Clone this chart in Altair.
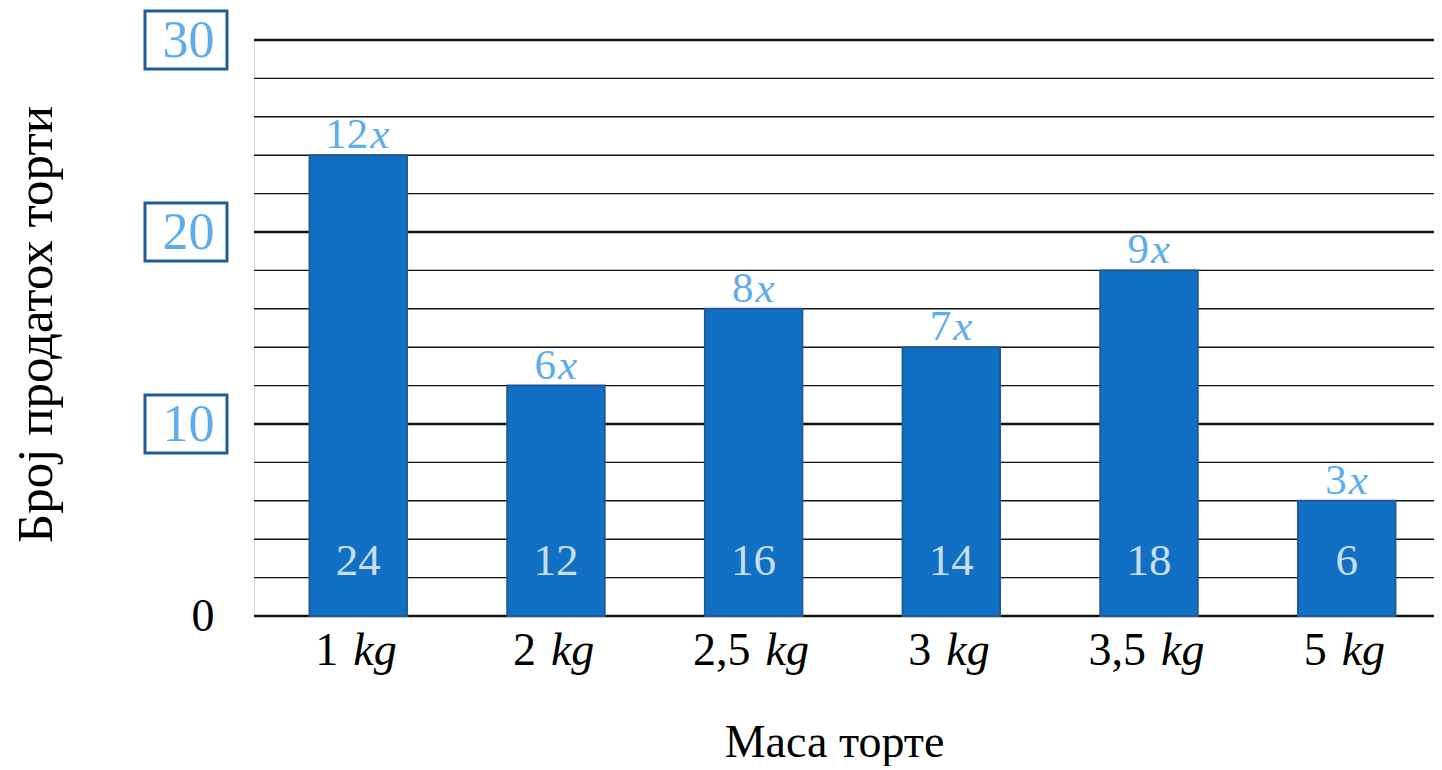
import altair as alt
import pandas as pd

# ---- data ----
masses = ["1", "2", "2,5", "3", "3,5", "5"]
counts = [24, 12, 16, 14, 18, 6]
ratios = ["12", "6", "8", "7", "9", "3"]
y_ticks = [0, 2, 4, 6, 8, 10, 12, 14, 16, 18, 20, 22, 24, 26, 28, 30]
boxed_ticks = [10, 20, 30]

df = pd.DataFrame({
    "mass": masses,
    "count": counts,
    "ratio": ratios,
    "cnt_label": [str(c) for c in counts],
})
grid_df = pd.DataFrame({"v": y_ticks})
box_df = pd.DataFrame({"v": boxed_ticks})

FONT = "Liberation Serif"
BAR = "#1170C4"
BAR_STROKE = "#1F5B96"
LIGHT = "#5DADEC"
PALE = "#C9DEF2"
BOX = "#1E5C99"

W, H = 1180, 576

x_scale = alt.Scale(paddingInner=0.507, paddingOuter=0.238, align=0.59)
y_scale = alt.Scale(domain=[0, 30], nice=False, zero=True)

x_enc = alt.X("mass:N", sort=masses, scale=x_scale,
              axis=alt.Axis(labels=False, ticks=False, domain=False, grid=False,
                            title="Маса торте", titleFont=FONT, titleFontSize=46,
                            titleFontWeight="normal", titleColor="black",
                            titleX=580, titleY=140, titleBaseline="alphabetic",
                            titleAlign="center"))

y_enc = alt.Y("count:Q", scale=y_scale,
              axis=alt.Axis(values=y_ticks, tickCount=40, domain=False, ticks=False, grid=False,
                            labelOverlap=False,
                            labelExpr="datum.value % 10 === 0 ? datum.label : ''",
                            labelFont=FONT,
                            labelFontSize=alt.expr("datum.value === 0 ? 46 : 52"),
                            labelColor=alt.expr("datum.value === 0 ? 'black' : '" + LIGHT + "'"),
                            labelPadding=40, labelAlign="right", labelBaseline="middle",
                            title="Број продатох торти", titleFont=FONT, titleFontSize=51,
                            titleFontWeight="normal", titleColor="black",
                            titleAngle=-90, titleX=-203, titleY=284,
                            titleBaseline="alphabetic", titleAlign="center"))

base = alt.Chart(df)

grid = alt.Chart(grid_df).mark_rule(color="#111111").encode(
    y=alt.Y("v:Q", scale=y_scale),
    strokeWidth=alt.condition("datum.v % 10 === 0", alt.value(2.6), alt.value(1.4)))

bars = base.mark_bar(color=BAR, stroke=BAR_STROKE, strokeWidth=2).encode(x=x_enc, y=y_enc)

top_num = base.mark_text(font=FONT, fontSize=43, color=LIGHT, align="right",
                         baseline="alphabetic", dy=-7,
                         dx=alt.expr("length(datum.ratio) == 2 ? 10 : 0")).encode(
    x=alt.X("mass:N", sort=masses, scale=x_scale),
    y=alt.Y("count:Q", scale=y_scale), text="ratio:N")

top_x = base.mark_text(font=FONT, fontSize=43, fontStyle="italic", color=LIGHT, align="left",
                       baseline="alphabetic", dy=-7,
                       dx=alt.expr("length(datum.ratio) == 2 ? 12 : 2")).encode(
    x=alt.X("mass:N", sort=masses, scale=x_scale),
    y=alt.Y("count:Q", scale=y_scale), text=alt.value("x"))

inside = base.mark_text(font=FONT, fontSize=45, color=PALE, align="center",
                        baseline="alphabetic", dy=-41).encode(
    x=alt.X("mass:N", sort=masses, scale=x_scale),
    y=alt.datum(0, scale=y_scale), text="cnt_label:N")

xl_num = base.mark_text(font=FONT, fontSize=46, color="black", align="right",
                        baseline="alphabetic", dy=49,
                        dx=alt.expr("length(datum.mass) == 1 ? -20 : -3")).encode(
    x=alt.X("mass:N", sort=masses, scale=x_scale),
    y=alt.datum(0, scale=y_scale), text="mass:N")

xl_kg = base.mark_text(font=FONT, fontSize=46, fontStyle="italic", color="black", align="left",
                       baseline="alphabetic", dy=49,
                       dx=alt.expr("length(datum.mass) == 1 ? -5 : 12")).encode(
    x=alt.X("mass:N", sort=masses, scale=x_scale),
    y=alt.datum(0, scale=y_scale), text=alt.value("kg"))

boxes = alt.Chart(box_df).mark_point(
    shape="M-1.414,-1L1.414,-1L1.414,1L-1.414,1Z", size=3364, filled=False,
    stroke=BOX, strokeWidth=3, opacity=1).encode(
    x=alt.value(-68), y=alt.Y("v:Q", scale=y_scale))

chart = alt.layer(grid, bars, top_num, top_x, inside, xl_num, xl_kg, boxes).properties(
    width=W, height=H,
    autosize=alt.AutoSizeParams(type="none"),
    padding={"left": 246, "top": 32, "right": 0, "bottom": 150},
).configure_view(stroke=None).configure(background="white")

chart.save("out.html", embed_options={"renderer": "svg", "actions": False})
